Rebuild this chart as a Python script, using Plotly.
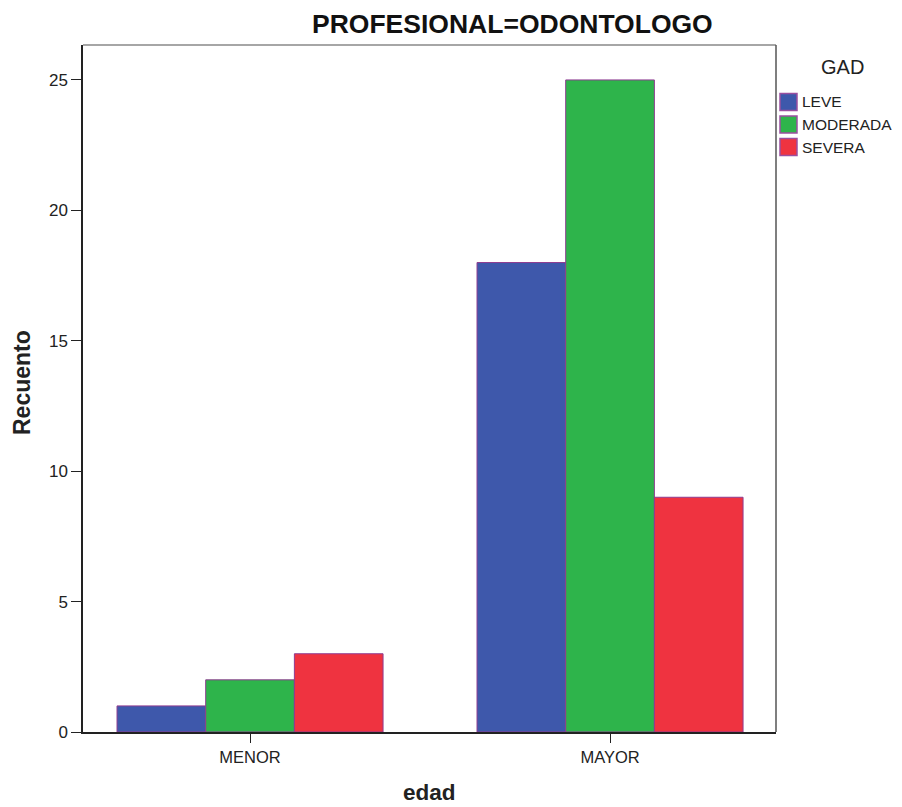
import plotly.graph_objects as go

categories = ["MENOR", "MAYOR"]
series_names = ["LEVE", "MODERADA", "SEVERA"]
leve = [1, 18]
moderada = [2, 25]
severa = [3, 9]
colors = ["#3E58AB", "#2EB44B", "#EF3340"]
y_ticks = [0, 5, 10, 15, 20, 25]

fig = go.Figure()
for name, vals, col in zip(series_names, [leve, moderada, severa], colors):
    fig.add_trace(go.Bar(
        x=categories, y=vals, name=name,
        marker=dict(color=col, line=dict(color="#8E3C90", width=1)),
    ))

font_family = "Arial, Liberation Sans, sans-serif"
# page is offset by the 8px body margin; figure size compensates
W, H = 894, 799
ML, MT, PW, PH = 75, 37, 693, 687
OFF = 8


def px_x(xpage):
    return (xpage - OFF - ML) / PW


def px_y(ypage):
    return (MT + PH - (ypage - OFF)) / PH


shapes = [
    dict(type="line", xref="paper", yref="paper", x0=0, x1=1, y0=1, y1=1,
         line=dict(color="#888888", width=1.5)),
    dict(type="line", xref="paper", yref="paper", x0=1, x1=1, y0=0, y1=1,
         line=dict(color="#555555", width=1.5)),
]
annotations = [
    dict(text="<b>PROFESIONAL=ODONTOLOGO</b>", xref="paper", yref="paper",
         x=px_x(512), y=1.0, xanchor="center", yanchor="middle", yshift=21,
         showarrow=False, font=dict(size=26.5, color="#111111", family=font_family)),
    dict(text="GAD", xref="paper", yref="paper",
         x=px_x(842), y=px_y(67), xanchor="center", yanchor="middle",
         showarrow=False, font=dict(size=20, color="#222222", family=font_family)),
    dict(text="<b>edad</b>", xref="paper", yref="paper",
         x=0.5, y=0.0, xanchor="center", yanchor="middle", yshift=-60,
         showarrow=False, font=dict(size=22.5, color="#222222", family=font_family)),
    dict(text="<b>Recuento</b>", xref="paper", yref="paper", textangle=-90,
         x=0.0, y=0.508, xanchor="center", yanchor="middle", xshift=-61,
         showarrow=False, font=dict(size=23, color="#222222", family=font_family)),
]

# legend drawn as swatches + labels
for i, (name, col) in enumerate(zip(series_names, colors)):
    yc = 102 + 22.5 * i
    shapes.append(dict(type="rect", xref="paper", yref="paper",
                       x0=px_x(780), x1=px_x(797), y0=px_y(yc + 8.5), y1=px_y(yc - 8.5),
                       fillcolor=col, line=dict(color="#9A4FA0", width=1.5)))
    annotations.append(dict(text=name, xref="paper", yref="paper",
                            x=px_x(800), y=px_y(yc), xanchor="left", yanchor="middle",
                            showarrow=False,
                            font=dict(size=15.5, color="#222222", family=font_family)))

fig.update_layout(
    barmode="group",
    bargap=0.261,
    bargroupgap=0,
    width=W, height=H,
    margin=dict(l=ML, r=W - ML - PW, t=MT, b=H - MT - PH, autoexpand=False),
    paper_bgcolor="white",
    plot_bgcolor="white",
    font=dict(family=font_family, color="#222222", size=16),
    showlegend=False,
    xaxis=dict(
        type="category",
        range=[-0.464, 1.461],
        showline=True, linecolor="#222222", linewidth=1.5,
        ticks="outside", ticklen=9, tickcolor="#222222",
        tickfont=dict(size=16.5, color="#222222"),
        showgrid=False, zeroline=False, automargin=False,
    ),
    yaxis=dict(
        range=[0, 26.34],
        tickvals=y_ticks,
        showline=True, linecolor="#222222", linewidth=1.5,
        ticks="outside", ticklen=10, tickcolor="#222222",
        tickfont=dict(size=17, color="#222222"),
        showgrid=False, zeroline=False, automargin=False,
    ),
    shapes=shapes,
    annotations=annotations,
)

fig.write_html("out.html")
